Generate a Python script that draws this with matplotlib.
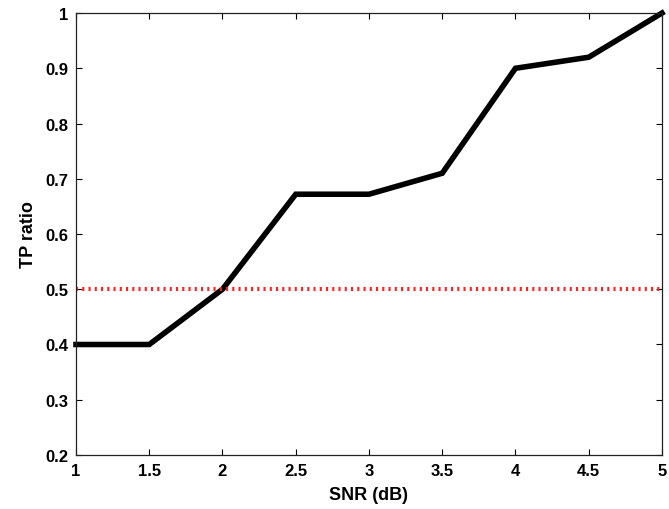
import matplotlib
matplotlib.use("Agg")
import matplotlib.pyplot as plt

snr = [1, 1.5, 2, 2.5, 3, 3.5, 4, 4.5, 5]
tp_ratio = [0.40, 0.40, 0.50, 0.672, 0.672, 0.71, 0.90, 0.92, 1.00]
threshold = 0.5

xticks = [1, 1.5, 2, 2.5, 3, 3.5, 4, 4.5, 5]
xtick_labels = ["1", "1.5", "2", "2.5", "3", "3.5", "4", "4.5", "5"]
yticks = [0.2, 0.3, 0.4, 0.5, 0.6, 0.7, 0.8, 0.9, 1.0]
ytick_labels = ["0.2", "0.3", "0.4", "0.5", "0.6", "0.7", "0.8", "0.9", "1"]

plt.rcParams["font.family"] = ["Liberation Sans", "DejaVu Sans"]
plt.rcParams["font.weight"] = "bold"

fig = plt.figure(figsize=(6.69, 5.10), dpi=100)
ax = fig.add_axes([0.1136, 0.1059, 0.8759, 0.8666])

ax.plot(snr, tp_ratio, color="black", linewidth=4.0, solid_joinstyle="miter", clip_on=False)
ax.axhline(threshold, color="#ff2020", linestyle=(0, (0.5, 1.0)), linewidth=3.0,
           dash_capstyle="butt")

ax.set_xlim(1, 5)
ax.set_ylim(0.2, 1.0)
ax.set_xticks(xticks)
ax.set_xticklabels(xtick_labels)
ax.set_yticks(yticks)
ax.set_yticklabels(ytick_labels)
ax.tick_params(direction="in", top=True, right=True, length=4.5, width=0.8,
               labelsize=12)
ax.tick_params(axis="y", pad=5.5)
ax.tick_params(axis="x", pad=5.5)
for lab in ax.get_xticklabels() + ax.get_yticklabels():
    lab.set_fontweight("bold")
for s in ax.spines.values():
    s.set_linewidth(0.9)
    s.set_color("#222222")

ax.set_xlabel("SNR (dB)", fontsize=13, fontweight="bold", labelpad=6)
ax.set_ylabel("TP ratio", fontsize=13, fontweight="bold", labelpad=6)

fig.savefig("out.png", dpi=100)
